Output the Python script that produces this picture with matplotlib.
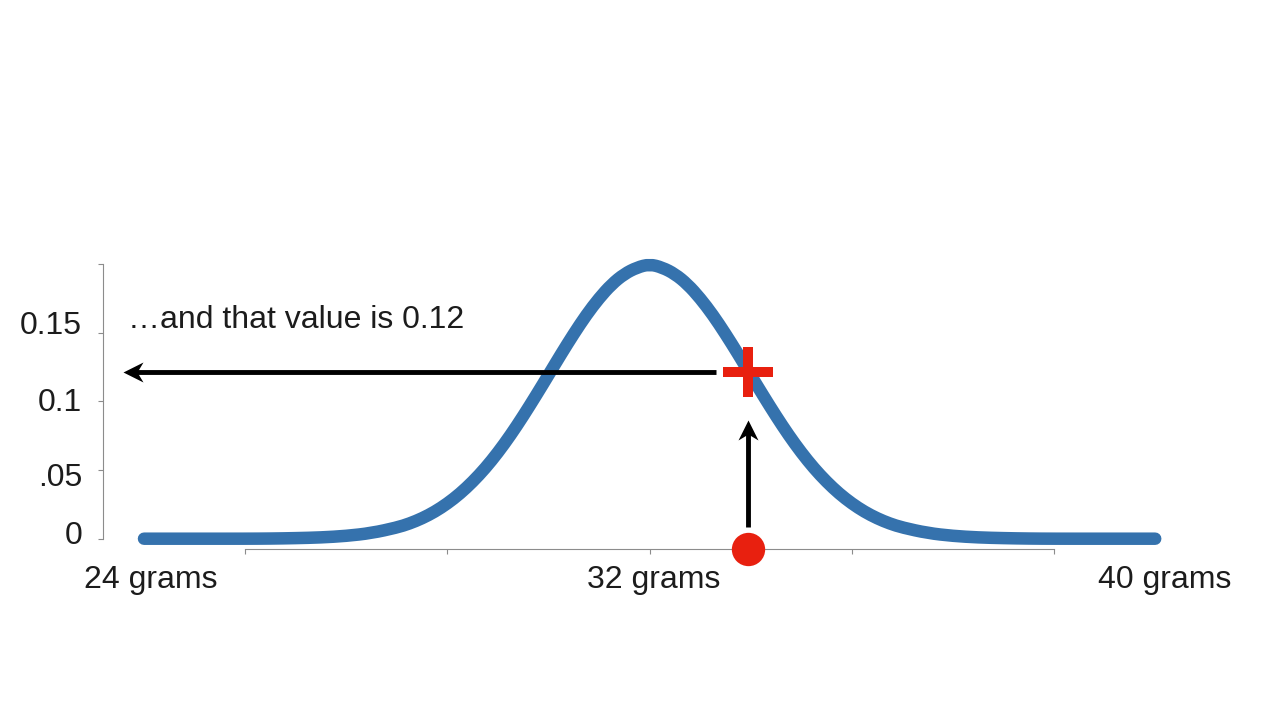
# Bell curve of weights, reading the density off at one measured weight.

import matplotlib.pyplot as plt
from matplotlib.patches import PathPatch
from matplotlib.path import Path
from matplotlib.markers import MarkerStyle
from matplotlib.transforms import Affine2D

plt.rcParams['font.family'] = ['Liberation Sans', 'DejaVu Sans']

# Curve
grams = [24, 25, 25.6, 26, 26.4, 26.8, 27.2, 27.6, 28, 28.2, 28.4, 28.6, 28.8,
         29, 29.2, 29.4, 29.6, 29.8, 30, 30.2, 30.4, 30.6, 30.8, 31, 31.2,
         31.4, 31.6, 31.8, 32, 32.2, 32.4, 32.6, 32.8, 33, 33.2, 33.4, 33.6,
         33.8, 34, 34.2, 34.4, 34.6, 34.8, 35, 35.2, 35.4, 35.6, 35.8, 36,
         36.4, 36.8, 37.2, 37.6, 38, 38.4, 39, 40]
density = [0, 0, 0, 0.0001, 0.0004, 0.0009, 0.002, 0.0041, 0.0081, 0.011, 0.0148,
           0.0196, 0.0256, 0.0328, 0.0414, 0.0513, 0.0627, 0.0754, 0.0893, 0.104,
           0.1191, 0.1344, 0.1491, 0.1629, 0.175, 0.1852, 0.1927, 0.1974, 0.1998,
           0.1974, 0.1927, 0.1852, 0.175, 0.1629, 0.1491, 0.1344, 0.1191, 0.104,
           0.0893, 0.0754, 0.0627, 0.0513, 0.0414, 0.0328, 0.0256, 0.0196, 0.0148,
           0.011, 0.0081, 0.0041, 0.002, 0.0009, 0.0004, 0.0001, 0, 0, 0]

y_ticks = [0, 0.05, 0.1, 0.15]
y_tick_labels = ['0', '.05', '0.1', '0.15']
x_ticks = [25.6, 28.8, 32, 35.2, 38.4]
x_label_grams = [24.1, 32.07, 40.15]
x_labels = ['24 grams', '32 grams', '40 grams']

point_grams = 33.56
point_value = 0.1213

BLUE = '#3572ad'
RED = '#e8200f'
TEXT = '#1c1c1c'
GREY = '#8c8c8c'

# Picture scale
PX_GRAM = 63.2
PX_UNIT = 1374.0
X0_PX, Y0_PX = 649.6, 538.7


def gx(px):
    return 32 + (px - X0_PX) / PX_GRAM


def vy(px):
    return (Y0_PX - px) / PX_UNIT


def smooth_path(xs, ys):
    # Quadratic segments through the midpoints, so the thick line has no corners
    verts = [(xs[0], ys[0])]
    codes = [Path.MOVETO]
    for i in range(1, len(xs) - 1):
        verts.append((xs[i], ys[i]))
        verts.append(((xs[i] + xs[i + 1]) / 2, (ys[i] + ys[i + 1]) / 2))
        codes += [Path.CURVE3, Path.CURVE3]
    verts.append((xs[-1], ys[-1]))
    codes.append(Path.LINETO)
    return Path(verts, codes)


fig = plt.figure(figsize=(12.8, 7.2), dpi=100)
ax = fig.add_axes([0, 0, 1, 1])
ax.set_xlim(gx(0), gx(1280))
ax.set_ylim(vy(720), vy(0))

# Axes lines sit apart from the curve
for side in ['top', 'right']:
    ax.spines[side].set_visible(False)
ax.spines['left'].set_position(('data', gx(103)))
ax.spines['bottom'].set_position(('data', vy(549.3)))
ax.spines['left'].set_bounds(0, 0.2)
ax.spines['bottom'].set_bounds(x_ticks[0], x_ticks[-1])
for side in ['left', 'bottom']:
    ax.spines[side].set_color(GREY)
    ax.spines[side].set_linewidth(0.8)
ax.set_xticks(x_ticks)
ax.set_yticks(y_ticks + [0.2])
ax.set_xticklabels([])
ax.set_yticklabels([])
ax.tick_params(length=3.6, width=0.8, color=GREY)
ax.patch.set_visible(False)

ax.add_patch(PathPatch(smooth_path(grams, density), fill=False, edgecolor=BLUE, lw=9,
                       capstyle='round', joinstyle='round', zorder=2))

# Labels are nudged off their ticks in the original
y_label_px = [544, 486, 411, 334]
for label, px in zip(y_tick_labels, y_label_px):
    ax.text(gx(82), vy(px), label, ha='right', va='baseline', fontsize=23, color=TEXT)
for label, g in zip(x_labels, x_label_grams):
    ax.text(g, vy(588), label, ha='center', va='baseline', fontsize=23, color=TEXT)
ax.text(gx(128.5), vy(328), '…and that value is 0.12', ha='left', va='baseline',
        fontsize=23, color=TEXT)

# Arrows: a shaft plus a notched head
head = Path([(0, 0), (1, 0.5), (0.7, 0), (1, -0.5), (0, 0)],
            [Path.MOVETO, Path.LINETO, Path.LINETO, Path.LINETO, Path.CLOSEPOLY])
head_left = MarkerStyle(head)
head_up = MarkerStyle(head, transform=Affine2D().rotate_deg(-90))

ax.plot([gx(716), gx(135)], [point_value, point_value], color='black', lw=3.5,
        solid_capstyle='butt', zorder=3)
ax.plot([gx(123)], [point_value], marker=head_left, ms=28.8, color='black', mew=0, zorder=3)
ax.plot([point_grams, point_grams], [vy(527), vy(432)], color='black', lw=3.5,
        solid_capstyle='butt', zorder=3)
ax.plot([point_grams], [vy(420)], marker=head_up, ms=28.8, color='black', mew=0, zorder=3)

ax.plot([point_grams], [point_value], marker='+', ms=36, mew=7.2, color=RED, zorder=4)
ax.plot([point_grams], [vy(549.3)], marker='o', ms=24, mew=0, color=RED, zorder=4,
        clip_on=False)

fig.savefig('out.png', dpi=100)
